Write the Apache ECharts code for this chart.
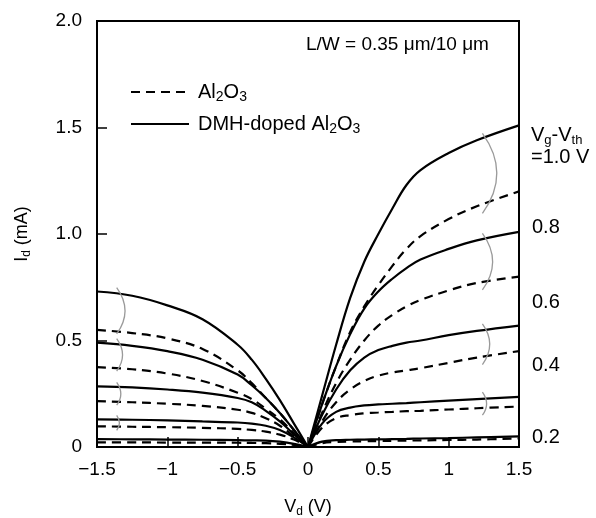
<!DOCTYPE html>
<html><head><meta charset="utf-8">
<script src="https://cdn.jsdelivr.net/npm/echarts@6/dist/echarts.min.js"></script>
<style>html,body{margin:0;padding:0;background:#fff}#c{width:596px;height:518px}</style>
</head><body><div id="c"></div>
<script>
// Drain voltage sample points (V)
const vdNeg = [-1.5, -1.25, -1.0, -0.75, -0.5, -0.4, -0.3, -0.2, -0.1, 0];
const vdPos = [0, 0.1, 0.2, 0.3, 0.4, 0.5, 0.6, 0.7, 0.8, 1.0, 1.2, 1.5];

// |Id| (mA), DMH-doped Al2O3 (solid)
const dmh10Neg = [0.73, 0.71, 0.665, 0.60, 0.48, 0.41, 0.32, 0.22, 0.11, 0];
const dmh10Pos = [0, 0.24, 0.48, 0.70, 0.87, 1.00, 1.12, 1.23, 1.30, 1.38, 1.44, 1.51];
const dmh08Neg = [0.49, 0.475, 0.45, 0.41, 0.34, 0.29, 0.23, 0.16, 0.08, 0];
const dmh08Pos = [0, 0.20, 0.38, 0.53, 0.65, 0.73, 0.79, 0.84, 0.88, 0.93, 0.97, 1.01];
const dmh06Neg = [0.285, 0.28, 0.27, 0.255, 0.23, 0.21, 0.17, 0.12, 0.06, 0];
const dmh06Pos = [0, 0.15, 0.27, 0.36, 0.42, 0.455, 0.475, 0.49, 0.50, 0.525, 0.545, 0.57];
const dmh04Neg = [0.13, 0.128, 0.125, 0.12, 0.115, 0.11, 0.10, 0.08, 0.045, 0];
const dmh04Pos = [0, 0.11, 0.165, 0.185, 0.195, 0.20, 0.203, 0.206, 0.21, 0.218, 0.225, 0.235];
const dmh02Neg = [0.037, 0.036, 0.035, 0.034, 0.032, 0.031, 0.03, 0.025, 0.015, 0];
const dmh02Pos = [0, 0.025, 0.032, 0.034, 0.035, 0.036, 0.037, 0.038, 0.04, 0.042, 0.045, 0.05];

// |Id| (mA), Al2O3 (dashed)
const al10Neg = [0.55, 0.535, 0.51, 0.46, 0.36, 0.30, 0.23, 0.16, 0.08, 0];
const al10Pos = [0, 0.20, 0.38, 0.54, 0.66, 0.76, 0.85, 0.93, 0.99, 1.07, 1.13, 1.20];
const al08Neg = [0.375, 0.365, 0.345, 0.31, 0.255, 0.225, 0.18, 0.13, 0.065, 0];
const al08Pos = [0, 0.16, 0.30, 0.41, 0.50, 0.57, 0.62, 0.66, 0.69, 0.735, 0.77, 0.80];
const al06Neg = [0.215, 0.21, 0.203, 0.193, 0.175, 0.16, 0.135, 0.10, 0.05, 0];
const al06Pos = [0, 0.12, 0.21, 0.27, 0.31, 0.335, 0.35, 0.36, 0.37, 0.395, 0.42, 0.45];
const al04Neg = [0.097, 0.095, 0.093, 0.09, 0.085, 0.08, 0.072, 0.058, 0.035, 0];
const al04Pos = [0, 0.09, 0.135, 0.15, 0.158, 0.162, 0.165, 0.168, 0.17, 0.176, 0.182, 0.19];
const al02Neg = [0.022, 0.022, 0.021, 0.021, 0.02, 0.019, 0.018, 0.015, 0.01, 0];
const al02Pos = [0, 0.018, 0.024, 0.026, 0.027, 0.028, 0.029, 0.03, 0.031, 0.033, 0.035, 0.04];

const gateLabels = ['0.8', '0.6', '0.4', '0.2'];
const seriesNames = ['Al2O3', 'DMH-doped Al2O3'];

const FONT = '"Liberation Sans", Arial, sans-serif';
const rich = {
  m: {fontSize: 18, fontFamily: FONT, color: '#000', lineHeight: 22},
  s: {fontSize: 12, fontFamily: FONT, color: '#000', lineHeight: 12, verticalAlign: 'bottom'}
};
const richLeg = {
  m: {fontSize: 20, fontFamily: FONT, color: '#000', lineHeight: 24},
  s: {fontSize: 14, fontFamily: FONT, color: '#000', lineHeight: 14, verticalAlign: 'bottom'}
};
const richBig = {
  m: {fontSize: 20, fontFamily: FONT, color: '#000', lineHeight: 24},
  s: {fontSize: 13, fontFamily: FONT, color: '#000', lineHeight: 13, verticalAlign: 'bottom'}
};

const curves = [
  {name: seriesNames[0], dashed: true, neg: al10Neg, pos: al10Pos},
  {name: seriesNames[1], dashed: false, neg: dmh10Neg, pos: dmh10Pos},
  {name: seriesNames[0], dashed: true, neg: al08Neg, pos: al08Pos},
  {name: seriesNames[1], dashed: false, neg: dmh08Neg, pos: dmh08Pos},
  {name: seriesNames[0], dashed: true, neg: al06Neg, pos: al06Pos},
  {name: seriesNames[1], dashed: false, neg: dmh06Neg, pos: dmh06Pos},
  {name: seriesNames[0], dashed: true, neg: al04Neg, pos: al04Pos},
  {name: seriesNames[1], dashed: false, neg: dmh04Neg, pos: dmh04Pos},
  {name: seriesNames[0], dashed: true, neg: al02Neg, pos: al02Pos},
  {name: seriesNames[1], dashed: false, neg: dmh02Neg, pos: dmh02Pos}
];

const series = [];
curves.forEach(c => {
  [[vdNeg, c.neg], [vdPos, c.pos]].forEach(([xs, ys]) => {
    series.push({
      type: 'line', name: c.name,
      data: xs.map((x, i) => [x, ys[i]]),
      smooth: 0.4, symbol: 'none', silent: true,
      lineStyle: {color: '#000', width: 2.2, type: c.dashed ? [9, 6] : 'solid'},
      itemStyle: {color: '#000'}, z: 3
    });
  });
});

// Gray brackets pairing each gate voltage's two curves (built from the data)
const pairs = [[dmh10Neg, al10Neg, dmh10Pos, al10Pos], [dmh08Neg, al08Neg, dmh08Pos, al08Pos],
               [dmh06Neg, al06Neg, dmh06Pos, al06Pos], [dmh04Neg, al04Neg, dmh04Pos, al04Pos]];
const bracketData = [];
pairs.forEach(p => {
  bracketData.push([1.24, p[2][10], p[3][10], 7]);
  bracketData.push([-1.36, p[0][0], p[1][0], 4]);
});
series.push({
  type: 'custom', silent: true, z: 4, clip: false,
  encode: {x: 0, y: [1, 2]},
  data: bracketData,
  renderItem: (params, api) => {
    const x = api.value(0);
    const pad = api.value(3);
    const p1 = api.coord([x, api.value(1)]);
    const p2 = api.coord([x, api.value(2)]);
    const y1 = p1[1] - pad, y2 = p2[1] + pad;
    const bulge = 0.18 * (y2 - y1);
    return {
      type: 'bezierCurve',
      shape: {x1: p1[0], y1: y1, x2: p1[0], y2: y2, cpx1: p1[0] + 2 * bulge, cpy1: (y1 + y2) / 2},
      style: {stroke: '#9a9a9a', fill: null, lineWidth: 1.3}
    };
  }
});

const chart = echarts.init(document.getElementById('c'));
chart.setOption({
  animation: false,
  backgroundColor: '#fff',
  grid: {left: 97, right: 77, top: 21, bottom: 71, show: true, borderColor: '#000', borderWidth: 2,
         containLabel: false, outerBoundsMode: 'none'},
  legend: {
    data: seriesNames, orient: 'vertical', left: 130, top: 82, padding: 0,
    itemWidth: 58, itemHeight: 14, itemGap: 10, selectedMode: false,
    itemStyle: {color: 'rgba(0,0,0,0)', borderColor: 'rgba(0,0,0,0)', borderWidth: 0},
    textStyle: {rich: richLeg, padding: [0, 0, 0, 4]},
    formatter: n => n === seriesNames[0] ? '{m|Al}{s|2}{m|O}{s|3}' : '{m|DMH-doped Al}{s|2}{m|O}{s|3}'
  },
  xAxis: {
    type: 'value', min: -1.5, max: 1.5, interval: 0.5,
    name: '{m|V}{s|d}{m| (V)}', nameLocation: 'middle', nameGap: 49,
    nameTextStyle: {rich: rich},
    axisLine: {onZero: false, lineStyle: {color: '#000', width: 2}},
    axisTick: {inside: true, length: 10, lineStyle: {color: '#000', width: 1.5}},
    splitLine: {show: false},
    axisLabel: {color: '#000', fontSize: 19, fontFamily: FONT, margin: 13,
      formatter: v => v < 0 ? '\u2212' + Math.abs(v) : String(v)}
  },
  yAxis: {
    type: 'value', min: 0, max: 2, interval: 0.5,
    name: '{m|I}{s|d}{m| (mA)}', nameLocation: 'middle', nameGap: 64, nameRotate: 90,
    nameTextStyle: {rich: rich},
    axisLine: {onZero: false, lineStyle: {color: '#000', width: 2}},
    axisTick: {inside: true, length: 10, lineStyle: {color: '#000', width: 1.5}},
    splitLine: {show: false},
    axisLabel: {color: '#000', fontSize: 19, fontFamily: FONT, margin: 15,
      formatter: v => v === 0 ? '0' : v.toFixed(1)}
  },
  graphic: [
    {type: 'text', x: 306, y: 45, style: {text: 'L/W = 0.35 \u03bcm/10 \u03bcm', font: '19px ' + FONT, fill: '#000', align: 'left', verticalAlign: 'middle'}},
    {type: 'text', x: 531, y: 135, style: {text: '{m|V}{s|g}{m|-V}{s|th}', rich: richBig, verticalAlign: 'middle'}},
    {type: 'text', x: 531, y: 157, style: {text: '=1.0 V', font: '20px ' + FONT, fill: '#000', verticalAlign: 'middle'}},
    {type: 'text', x: 532, y: 227, style: {text: gateLabels[0], font: '20px ' + FONT, fill: '#000', verticalAlign: 'middle'}},
    {type: 'text', x: 532, y: 302, style: {text: gateLabels[1], font: '20px ' + FONT, fill: '#000', verticalAlign: 'middle'}},
    {type: 'text', x: 532, y: 365, style: {text: gateLabels[2], font: '20px ' + FONT, fill: '#000', verticalAlign: 'middle'}},
    {type: 'text', x: 532, y: 437, style: {text: gateLabels[3], font: '20px ' + FONT, fill: '#000', verticalAlign: 'middle'}}
  ],
  series: series
});
</script>
</body></html>
